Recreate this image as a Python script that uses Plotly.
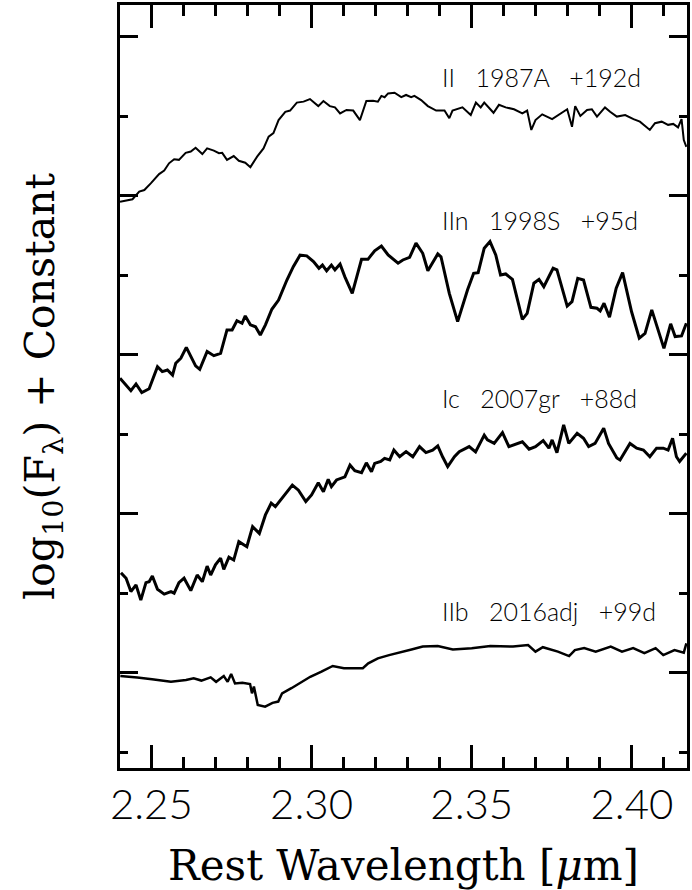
import plotly.graph_objects as go

# Rest wavelength (micron) and log flux + offset for each spectrum

wl_87a = [2.2402, 2.2441, 2.2462, 2.2478, 2.2498, 2.2524, 2.2540, 2.2555, 2.2571, 2.2586,
          2.2607, 2.2623, 2.2638, 2.2659, 2.2674, 2.2695, 2.2711, 2.2721, 2.2736, 2.2757,
          2.2773, 2.2793, 2.2809, 2.2830, 2.2850, 2.2866, 2.2881, 2.2897, 2.2918, 2.2933,
          2.2954, 2.2975, 2.2995, 2.3021, 2.3037, 2.3057, 2.3073, 2.3089, 2.3109, 2.3130,
          2.3151, 2.3171, 2.3192, 2.3207, 2.3218, 2.3228,
          2.3239, 2.3259, 2.3280, 2.3295, 2.3311, 2.3321, 2.3342, 2.3363, 2.3389, 2.3415,
          2.3430, 2.3440, 2.3471, 2.3497, 2.3513, 2.3528, 2.3539, 2.3554, 2.3568, 2.3585,
          2.3606, 2.3632, 2.3658, 2.3673, 2.3686, 2.3699, 2.3720, 2.3751, 2.3777, 2.3798,
          2.3813, 2.3823, 2.3839, 2.3860, 2.3875, 2.3891, 2.3916, 2.3932, 2.3953, 2.3979,
          2.4005, 2.4025, 2.4056, 2.4072, 2.4093, 2.4113, 2.4129, 2.4144, 2.4155, 2.4162,
          2.4170]
fl_87a = [1.981, 1.989, 2.013, 2.018, 2.039, 2.068, 2.079, 2.102, 2.115, 2.113,
          2.135, 2.139, 2.151, 2.131, 2.149, 2.142, 2.134, 2.135, 2.113, 2.125,
          2.110, 2.104, 2.090, 2.123, 2.149, 2.186, 2.197, 2.238, 2.264, 2.268,
          2.293, 2.296, 2.304, 2.282, 2.298, 2.282, 2.278, 2.259, 2.270, 2.268,
          2.238, 2.298, 2.299, 2.296, 2.314, 2.310,
          2.322, 2.324, 2.310, 2.317, 2.310, 2.314, 2.301, 2.282, 2.268, 2.268,
          2.244, 2.268, 2.278, 2.254, 2.293, 2.278, 2.293, 2.278, 2.261, 2.286,
          2.278, 2.272, 2.259, 2.268, 2.207, 2.238, 2.256, 2.241, 2.259, 2.272,
          2.217, 2.282, 2.251, 2.270, 2.272, 2.249, 2.278, 2.264, 2.249, 2.254,
          2.241, 2.233, 2.207, 2.228, 2.233, 2.223, 2.226, 2.215, 2.241, 2.175,
          2.154]

wl_98s = [2.2402, 2.2416, 2.2436, 2.2452, 2.2470, 2.2493, 2.2519, 2.2534, 2.2550, 2.2566,
          2.2576, 2.2592, 2.2609, 2.2638, 2.2651, 2.2674, 2.2695, 2.2716, 2.2736, 2.2752,
          2.2767, 2.2783, 2.2793, 2.2809, 2.2825, 2.2840, 2.2856, 2.2876, 2.2897, 2.2923,
          2.2943, 2.2964, 2.2985, 2.3006, 2.3023, 2.3034, 2.3047, 2.3062, 2.3073, 2.3089,
          2.3104, 2.3127, 2.3156, 2.3176, 2.3197, 2.3218,
          2.3239, 2.3270, 2.3285, 2.3306, 2.3326, 2.3347, 2.3363, 2.3394, 2.3404, 2.3430,
          2.3456, 2.3487, 2.3506, 2.3520, 2.3539, 2.3557, 2.3575, 2.3590, 2.3606, 2.3627,
          2.3658, 2.3673, 2.3694, 2.3710, 2.3725, 2.3754, 2.3766, 2.3798, 2.3813, 2.3831,
          2.3849, 2.3872, 2.3891, 2.3901, 2.3913, 2.3930, 2.3951, 2.3971, 2.3999, 2.4023,
          2.4041, 2.4062, 2.4079, 2.4100, 2.4121, 2.4135, 2.4155, 2.4170]
fl_98s = [1.426, 1.410, 1.387, 1.408, 1.381, 1.393, 1.462, 1.447, 1.452, 1.436,
          1.473, 1.489, 1.523, 1.465, 1.454, 1.510, 1.497, 1.504, 1.578, 1.578,
          1.607, 1.599, 1.622, 1.594, 1.588, 1.562, 1.594, 1.643, 1.672, 1.735,
          1.777, 1.813, 1.811, 1.793, 1.772, 1.782, 1.764, 1.782, 1.767, 1.785,
          1.745, 1.693, 1.800, 1.800, 1.827, 1.842,
          1.814, 1.788, 1.798, 1.806, 1.851, 1.819, 1.764, 1.817, 1.808, 1.693,
          1.604, 1.704, 1.756, 1.758, 1.835, 1.856, 1.814, 1.751, 1.754, 1.737,
          1.611, 1.630, 1.725, 1.737, 1.714, 1.772, 1.767, 1.653, 1.667, 1.740,
          1.735, 1.649, 1.646, 1.638, 1.662, 1.618, 1.709, 1.758, 1.635, 1.552,
          1.567, 1.641, 1.588, 1.520, 1.597, 1.557, 1.559, 1.599]

wl_07gr = [2.2405, 2.2421, 2.2436, 2.2452, 2.2467, 2.2483, 2.2493, 2.2503, 2.2519, 2.2540,
           2.2561, 2.2571, 2.2586, 2.2602, 2.2623, 2.2643, 2.2659, 2.2674, 2.2685, 2.2700,
           2.2716, 2.2726, 2.2742, 2.2757, 2.2773, 2.2798, 2.2816, 2.2837, 2.2856, 2.2874,
           2.2887, 2.2902, 2.2923, 2.2940, 2.2959, 2.2982, 2.3000, 2.3021, 2.3037, 2.3052,
           2.3062, 2.3078, 2.3104, 2.3120, 2.3135, 2.3156, 2.3171, 2.3187, 2.3197, 2.3216,
           2.3228, 2.3244, 2.3257, 2.3275, 2.3295, 2.3316, 2.3337, 2.3357, 2.3378, 2.3394,
           2.3409, 2.3425, 2.3446, 2.3461, 2.3492, 2.3512, 2.3539, 2.3549, 2.3570, 2.3596,
           2.3616, 2.3642, 2.3658, 2.3679, 2.3699, 2.3723, 2.3741, 2.3751, 2.3766, 2.3787,
           2.3803, 2.3829, 2.3849, 2.3865, 2.3885, 2.3912, 2.3927, 2.3953, 2.3963, 2.3994,
           2.4015, 2.4036, 2.4056, 2.4077, 2.4098, 2.4113, 2.4127, 2.4139, 2.4149, 2.4170]
fl_07gr = [0.814, 0.797, 0.755, 0.776, 0.728, 0.783, 0.786, 0.804, 0.762, 0.747,
           0.755, 0.750, 0.783, 0.797, 0.758, 0.807, 0.786, 0.835, 0.807, 0.839,
           0.860, 0.825, 0.863, 0.854, 0.912, 0.896, 0.959, 0.938, 0.996, 1.033,
           1.022, 1.041, 1.066, 1.090, 1.074, 1.038, 1.059, 1.097, 1.069, 1.108,
           1.085, 1.106, 1.116, 1.153, 1.135, 1.129, 1.160, 1.132, 1.158, 1.164,
           1.174, 1.169, 1.200, 1.179, 1.195, 1.179, 1.211, 1.192, 1.200, 1.213,
           1.179, 1.148, 1.179, 1.195, 1.211, 1.194, 1.247, 1.232, 1.221, 1.255,
           1.211, 1.221, 1.226, 1.203, 1.211, 1.230, 1.206, 1.232, 1.192, 1.279,
           1.221, 1.253, 1.237, 1.211, 1.221, 1.269, 1.221, 1.175, 1.169, 1.221,
           1.206, 1.200, 1.179, 1.206, 1.206, 1.200, 1.237, 1.179, 1.164, 1.190]

wl_16adj = [2.2403, 2.2456, 2.2502, 2.2561, 2.2608, 2.2632, 2.2656, 2.2685, 2.2702, 2.2726,
            2.2738, 2.2749, 2.2761, 2.2784, 2.2808, 2.2814, 2.2820, 2.2832, 2.2855, 2.2878,
            2.2896, 2.2908, 2.2937, 2.2966, 2.2996, 2.3031, 2.3066, 2.3101, 2.3160, 2.3177,
            2.3207, 2.3242, 2.3277, 2.3312, 2.3347, 2.3394, 2.3441, 2.3500, 2.3558, 2.3629,
            2.3676, 2.3699, 2.3722, 2.3769, 2.3804, 2.3822, 2.3851, 2.3887, 2.3934, 2.3969,
            2.4004, 2.4039, 2.4074, 2.4098, 2.4133, 2.4162, 2.4170]
fl_16adj = [0.489, 0.485, 0.479, 0.471, 0.477, 0.482, 0.475, 0.485, 0.471, 0.489,
            0.471, 0.496, 0.466, 0.468, 0.464, 0.435, 0.456, 0.398, 0.393, 0.405,
            0.409, 0.435, 0.451, 0.468, 0.487, 0.503, 0.521, 0.514, 0.514, 0.529,
            0.545, 0.555, 0.563, 0.573, 0.582, 0.584, 0.573, 0.577, 0.584, 0.582,
            0.587, 0.566, 0.580, 0.566, 0.552, 0.571, 0.577, 0.566, 0.582, 0.566,
            0.577, 0.561, 0.577, 0.555, 0.571, 0.563, 0.592]

# Spectrum labels: text and vertical position in flux units
labels = ["II  1987A  +192d", "IIn  1998S  +95d", "Ic  2007gr  +88d", "IIb  2016adj  +99d"]
label_y = [2.374, 1.924, 1.365, 0.694]
label_x = 2.34

series = [
    (wl_87a, fl_87a, 2.0),
    (wl_98s, fl_98s, 3.0),
    (wl_07gr, fl_07gr, 3.0),
    (wl_16adj, fl_16adj, 2.5),
]

THIN_SANS = "Lato, DejaVu Sans"
SERIF = "DejaVu Serif"

fig = go.Figure()
for wl, fl, lw in series:
    fig.add_trace(go.Scatter(x=wl, y=fl, mode="lines",
                             line=dict(color="black", width=lw),
                             showlegend=False, hoverinfo="skip"))

for txt, yy in zip(labels, label_y):
    fig.add_annotation(x=label_x, y=yy, xref="x", yref="y",
                       text=txt.replace("  ", "\u00a0\u00a0\u00a0"),
                       showarrow=False, xanchor="left", yanchor="middle",
                       font=dict(family=THIN_SANS, size=25, weight=300, color="black"))

axis_common = dict(
    showline=True, linecolor="black", linewidth=3, mirror="allticks",
    ticks="inside", tickcolor="black", tickwidth=3,
    showgrid=False, zeroline=False,
)

fig.update_xaxes(
    range=[2.2402, 2.4172], tick0=2.25, dtick=0.05, ticklen=23,
    tickformat=".2f", ticklabelstandoff=-2,
    tickfont=dict(family=THIN_SANS, size=42, weight=300, color="black"),
    minor=dict(dtick=0.01, ticks="inside", ticklen=11, tickwidth=3, tickcolor="black"),
    title=dict(text="Rest Wavelength [<i>μ</i>m]", standoff=24,
               font=dict(family=SERIF, size=42, color="black")),
    **axis_common,
)
fig.update_yaxes(
    range=[0.2, 2.6], tick0=0, dtick=0.5, ticklen=18,
    showticklabels=False,
    minor=dict(dtick=0.25, ticks="inside", ticklen=8, tickwidth=3, tickcolor="black"),
    title=dict(text="\u00a0\u00a0log<sub>10</sub>(F<sub>λ</sub>) + Constant", standoff=50,
               font=dict(family=SERIF, size=41, color="black")),
    **axis_common,
)

fig.update_layout(
    width=692, height=890, autosize=False,
    margin=dict(l=120, r=2, t=5, b=122),
    paper_bgcolor="white", plot_bgcolor="white",
)

fig.write_html("out.html")
